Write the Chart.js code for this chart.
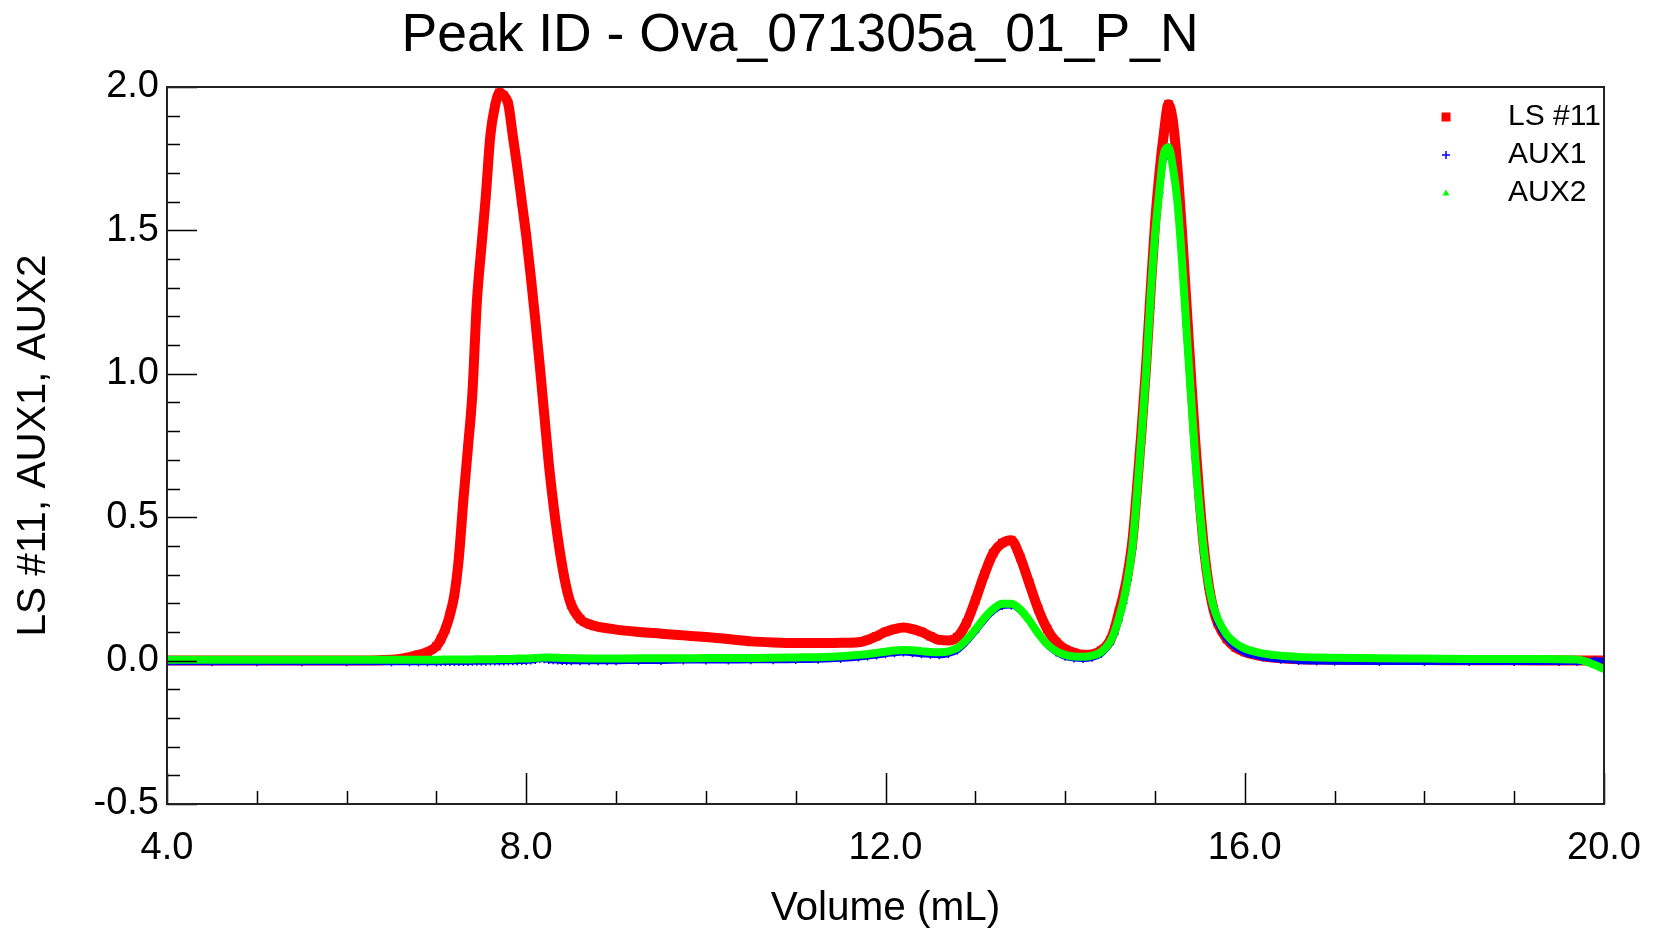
<!DOCTYPE html>
<html>
<head>
<meta charset="utf-8">
<script src="https://cdn.jsdelivr.net/npm/chart.js@4.4.1/dist/chart.umd.min.js"></script>
<style>
  html, body { margin: 0; padding: 0; background: #fff; }
  #wrap { width: 1663px; height: 930px; }
</style>
</head>
<body>
<div id="wrap"><canvas id="peaks" width="1663" height="930"></canvas></div>
<script>
// elution volume (mL), shared by all three detectors
var volume = [
  4.0, 4.5, 5.0, 5.5, 6.0, 6.5, 6.7, 6.8, 6.9, 7.0,
  7.05, 7.1, 7.15, 7.2, 7.25, 7.3, 7.35, 7.4, 7.45, 7.5,
  7.55, 7.6, 7.65, 7.7, 7.75, 7.8, 7.85, 7.9, 7.95, 8.0,
  8.05, 8.1, 8.15, 8.2, 8.25, 8.3, 8.35, 8.4, 8.45, 8.5,
  8.6, 8.7, 8.8, 8.9, 9.0, 9.25, 9.5, 9.75, 10.0, 10.25,
  10.5, 10.75, 11.0, 11.25, 11.5, 11.7, 11.8, 11.9, 12.0, 12.1,
  12.2, 12.3, 12.4, 12.5, 12.6, 12.7, 12.8, 12.9, 13.0, 13.1,
  13.2, 13.3, 13.4, 13.5, 13.6, 13.7, 13.8, 13.9, 14.0, 14.1,
  14.2, 14.3, 14.4, 14.5, 14.55, 14.6, 14.65, 14.7, 14.75, 14.8,
  14.85, 14.9, 14.95, 15.0, 15.05, 15.1, 15.15, 15.2, 15.25, 15.3,
  15.35, 15.4, 15.45, 15.5, 15.55, 15.6, 15.65, 15.7, 15.8, 15.9,
  16.0, 16.2, 16.4, 16.6, 16.8, 17.0, 17.5, 18.0, 18.5, 19.0,
  19.5, 19.7, 19.8, 19.9, 20.0
];

var ls11 = [
  0, 0, 0, 0, 0, 0.003, 0.012, 0.02, 0.03, 0.05,
  0.075, 0.11, 0.16, 0.23, 0.36, 0.56, 0.74, 0.93, 1.25, 1.44,
  1.62, 1.83, 1.93, 1.98, 1.97, 1.94, 1.83, 1.72, 1.60, 1.48,
  1.34, 1.19, 1.03, 0.86, 0.69, 0.55, 0.43, 0.33, 0.25, 0.195,
  0.145, 0.127, 0.118, 0.113, 0.108, 0.10, 0.094, 0.088, 0.082, 0.075,
  0.067, 0.063, 0.061, 0.061, 0.062, 0.064, 0.072, 0.085, 0.10, 0.11,
  0.115, 0.11, 0.10, 0.085, 0.072, 0.07, 0.082, 0.13, 0.21, 0.30,
  0.375, 0.41, 0.42, 0.36, 0.27, 0.18, 0.11, 0.065, 0.04, 0.027,
  0.02, 0.022, 0.035, 0.07, 0.11, 0.17, 0.23, 0.31, 0.42, 0.60,
  0.80, 1.02, 1.28, 1.52, 1.70, 1.84, 1.94, 1.88, 1.72, 1.50,
  1.25, 1.00, 0.76, 0.55, 0.38, 0.26, 0.18, 0.13, 0.075, 0.045,
  0.03, 0.015, 0.008, 0.005, 0.004, 0.003, 0.002, 0.002, 0.001, 0.001,
  0, 0, 0, 0, 0
];

var aux1 = [
  -0.006, -0.006, -0.006, -0.006, -0.006, -0.006, -0.006, -0.006, -0.006, -0.006,
  -0.005, -0.005, -0.005, -0.005, -0.005, -0.005, -0.005, -0.004, -0.004, -0.004,
  -0.004, -0.003, -0.003, -0.003, -0.003, -0.002, -0.002, -0.002, -0.001, -0.001,
  0.0, 0.002, 0.006, 0.005, 0.002, 0.001, 0.0, -0.001, -0.001, -0.002,
  -0.002, -0.002, -0.002, -0.002, -0.002, -0.001, -0.001, 0.0, 0.0, 0.0,
  0.001, 0.001, 0.002, 0.003, 0.006, 0.011, 0.014, 0.018, 0.022, 0.026,
  0.028, 0.026, 0.022, 0.020, 0.019, 0.023, 0.035, 0.064, 0.10, 0.14,
  0.172, 0.19, 0.192, 0.174, 0.138, 0.094, 0.054, 0.028, 0.013, 0.007,
  0.006, 0.010, 0.023, 0.058, 0.092, 0.14, 0.20, 0.28, 0.39, 0.56,
  0.76, 0.98, 1.23, 1.46, 1.63, 1.75, 1.79, 1.73, 1.61, 1.41,
  1.17, 0.94, 0.71, 0.52, 0.36, 0.25, 0.175, 0.128, 0.075, 0.045,
  0.027, 0.011, 0.003, -0.001, -0.003, -0.004, -0.005, -0.005, -0.005, -0.005,
  -0.005, -0.005, -0.002, 0.0, 0.0
];

var aux2 = [
  0.003, 0.003, 0.003, 0.003, 0.003, 0.003, 0.003, 0.003, 0.003, 0.003,
  0.003, 0.004, 0.004, 0.004, 0.004, 0.004, 0.004, 0.004, 0.005, 0.005,
  0.005, 0.005, 0.005, 0.006, 0.006, 0.006, 0.006, 0.007, 0.007, 0.007,
  0.008, 0.009, 0.010, 0.011, 0.011, 0.010, 0.010, 0.009, 0.009, 0.008,
  0.008, 0.007, 0.007, 0.007, 0.007, 0.008, 0.008, 0.008, 0.009, 0.009,
  0.009, 0.010, 0.011, 0.012, 0.015, 0.020, 0.023, 0.027, 0.031, 0.035,
  0.037, 0.036, 0.033, 0.030, 0.029, 0.032, 0.044, 0.072, 0.108, 0.148,
  0.18, 0.198, 0.198, 0.178, 0.14, 0.095, 0.057, 0.033, 0.02, 0.014,
  0.013, 0.017, 0.03, 0.065, 0.10, 0.15, 0.21, 0.29, 0.40, 0.58,
  0.78, 1.0, 1.26, 1.48, 1.64, 1.77, 1.79, 1.72, 1.60, 1.40,
  1.16, 0.93, 0.70, 0.52, 0.37, 0.26, 0.19, 0.145, 0.09, 0.06,
  0.042, 0.025, 0.017, 0.013, 0.011, 0.01, 0.008, 0.007, 0.006, 0.006,
  0.005, 0.004, -0.003, -0.016, -0.03
];

var seriesNames = ["LS #11", "AUX1", "AUX2"];
var seriesColors = ["#ff0000", "#0000ff", "#00ff00"];
var chartTitle = "Peak ID - Ova_071305a_01_P_N";
var xTitle = "Volume (mL)";
var yTitle = "LS #11, AUX1, AUX2";

var FONT = '"Liberation Sans", Arial, sans-serif';
Chart.defaults.font.family = FONT;
Chart.defaults.color = "#000";

function toPoints(ys) {
  return volume.map(function (v, i) { return { x: v, y: ys[i] }; });
}

// title sits a little left of centre in the original
var titlePlugin = {
  id: "titlePlugin",
  afterDraw: function (chart) {
    var ctx = chart.ctx;
    ctx.save();
    ctx.font = "53.5px " + FONT;
    ctx.fillStyle = "#000";
    ctx.textAlign = "center";
    ctx.textBaseline = "middle";
    ctx.fillText(chartTitle, 800, 36);
    ctx.restore();
  }
};

// inward major/minor ticks and the closed frame
var framePlugin = {
  id: "framePlugin",
  afterDatasetsDraw: function (chart) {
    var ctx = chart.ctx, a = chart.chartArea;
    var xs = chart.scales.x, ys = chart.scales.y;
    ctx.save();
    ctx.strokeStyle = "#000";
    ctx.lineWidth = 1.5;
    ctx.beginPath();
    for (var k = -5; k <= 20; k++) {
      var py = Math.round(ys.getPixelForValue(k / 10)) + 0.5;
      var len = (k % 5 === 0) ? 30 : 13;
      ctx.moveTo(a.left, py);
      ctx.lineTo(a.left + len, py);
    }
    for (var m = 4; m <= 20; m++) {
      var px = Math.round(xs.getPixelForValue(m)) + 0.5;
      var len2 = (m % 4 === 0) ? 31 : 13;
      ctx.moveTo(px, a.bottom);
      ctx.lineTo(px, a.bottom - len2);
    }
    ctx.stroke();
    ctx.strokeStyle = "#222";
    ctx.lineWidth = 2;
    ctx.strokeRect(a.left, a.top, a.right - a.left, a.bottom - a.top);
    ctx.restore();
  }
};

// legend drawn inside the plot, top right
var legendPlugin = {
  id: "legendPlugin",
  afterDraw: function (chart) {
    var ctx = chart.ctx, a = chart.chartArea;
    var mx = a.right - 158, tx = a.right - 96;
    ctx.save();
    ctx.font = "30px " + FONT;
    ctx.textBaseline = "middle";
    ctx.textAlign = "left";
    for (var i = 0; i < seriesNames.length; i++) {
      var y = a.top + 30 + i * 38;
      ctx.fillStyle = seriesColors[i];
      ctx.strokeStyle = seriesColors[i];
      if (i === 0) {
        ctx.fillRect(mx - 4.5, y - 4.5, 9, 9);
      } else if (i === 1) {
        ctx.lineWidth = 1.5;
        ctx.beginPath();
        ctx.moveTo(mx - 4, y); ctx.lineTo(mx + 4, y);
        ctx.moveTo(mx, y - 4); ctx.lineTo(mx, y + 4);
        ctx.stroke();
      } else {
        ctx.beginPath();
        ctx.moveTo(mx, y - 3.5); ctx.lineTo(mx + 3.5, y + 2.5); ctx.lineTo(mx - 3.5, y + 2.5);
        ctx.closePath();
        ctx.fill();
      }
      ctx.fillStyle = "#000";
      ctx.fillText(seriesNames[i], tx, y);
    }
    ctx.restore();
  }
};

var ctx = document.getElementById("peaks");
var peakChart = new Chart(ctx, {
  type: "scatter",
  data: {
    datasets: [
      {
        label: seriesNames[0],
        data: toPoints(ls11),
        order: 3,
        showLine: true,
        cubicInterpolationMode: "monotone",
        borderColor: seriesColors[0],
        borderWidth: 10,
        pointStyle: "rect",
        pointRadius: 6,
        pointBorderWidth: 0,
        pointBackgroundColor: seriesColors[0],
      },
      {
        label: seriesNames[1],
        data: toPoints(aux1),
        order: 2,
        showLine: true,
        cubicInterpolationMode: "monotone",
        borderColor: seriesColors[1],
        borderWidth: 6,
        pointStyle: "cross",
        pointRadius: 4,
        pointBorderWidth: 1.5,
        pointBorderColor: seriesColors[1],
      },
      {
        label: seriesNames[2],
        data: toPoints(aux2),
        order: 1,
        showLine: true,
        cubicInterpolationMode: "monotone",
        borderColor: seriesColors[2],
        borderWidth: 8,
        pointStyle: "triangle",
        pointRadius: 3.5,
        pointBorderWidth: 0,
        pointBackgroundColor: seriesColors[2],
      },
    ],
  },
  options: {
    responsive: false,
    animation: false,
    devicePixelRatio: 1,
    layout: { padding: { top: 87, right: 56, bottom: 0, left: 0 } },
    plugins: {
      legend: { display: false },
      title: { display: false },
      tooltip: { enabled: false },
    },
    scales: {
      x: {
        type: "linear",
        min: 4,
        max: 20,
        grid: { display: false, drawTicks: false },
        border: { display: false },
        ticks: {
          stepSize: 4,
          padding: 22,
          maxRotation: 0,
          autoSkip: false,
          font: { size: 38 },
          callback: function (v) { return v.toFixed(1); },
        },
        title: {
          display: true,
          text: xTitle,
          font: { size: 40.5, lineHeight: 1 },
          padding: { top: 0, bottom: 1 },
        },
        afterFit: function (s) { s.height = 126; },
      },
      y: {
        min: -0.5,
        max: 2.0,
        grid: { display: false, drawTicks: false },
        border: { display: false },
        ticks: {
          stepSize: 0.5,
          padding: 8,
          autoSkip: false,
          font: { size: 38 },
          callback: function (v) { return v.toFixed(1); },
        },
        title: {
          display: true,
          text: yTitle,
          font: { size: 40.5 },
          padding: { top: 10, bottom: 0 },
        },
        afterFit: function (s) { s.width = 167; },
      },
    },
  },
  plugins: [framePlugin, legendPlugin, titlePlugin],
});
</script>
</body>
</html>
